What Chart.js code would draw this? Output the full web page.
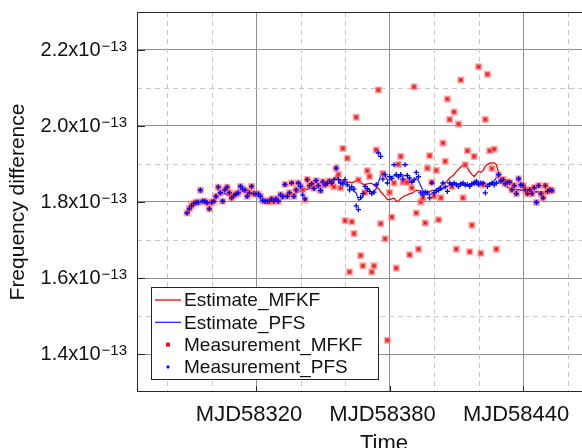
<!DOCTYPE html>
<html>
<head>
<meta charset="utf-8">
<script src="https://cdn.jsdelivr.net/npm/chart.js@4.4.0/dist/chart.umd.min.js"></script>
<style>
  html, body { margin: 0; padding: 0; background: #fff; }
  #wrap { width: 582px; height: 448px; overflow: hidden; position: relative; }
  #box { position: absolute; left: 0; top: 0; width: 640px; height: 448px; }
</style>
</head>
<body>
<div id="wrap"><div id="box"><canvas id="chart" width="640" height="448"></canvas></div></div>
<script>
// values are in units of 1e-13
const firstDay = 58289;
const lastDay = 58453;
const days = Array.from({ length: lastDay - firstDay + 1 }, (_, i) => firstDay + i);

const mfkfMeasured = [
  1.771, 1.782, 1.790, 1.796, 1.799, 1.799, 1.831, 1.802, 1.802, 1.798,
  1.782, 1.799, 1.802, 1.815, 1.839, 1.824, 1.802, 1.832, 1.839, 1.824,
  1.811, 1.817, 1.821, 1.824, 1.841, 1.834, 1.831, 1.815, 1.824, 1.841,
  1.822, 1.821, 1.821, 1.815, 1.804, 1.802, 1.802, 1.802, 1.808, 1.802,
  1.808, 1.802, 1.819, 1.815, 1.846, 1.815, 1.824, 1.850, 1.815, 1.832,
  1.850, 1.841, 1.832, 1.806, 1.859, 1.843, 1.848, 1.836, 1.856, 1.843,
  1.830, 1.853, 1.845, 1.849, 1.855, 1.850, 1.840, 1.889, 1.872, 1.837,
  1.941, 1.751, 1.915, 1.616, 1.748, 1.717, 2.023, 1.858, 1.659, 1.632,
  1.825, 1.882, 1.867, 1.616, 1.632, 1.937, 2.095, 1.743, 1.875, 1.703,
  1.436, 1.825, 1.760, 1.850, 1.626, 1.899, 1.920, 1.852, 1.853, 1.852,
  1.661, 1.837, 2.103, 1.771, 1.676, 1.800, 1.810, 1.745, 1.889, 1.922,
  1.852, 1.815, 1.883, 1.753, 1.811, 1.955, 1.907, 2.071, 2.017, 1.840,
  2.037, 1.676, 2.005, 2.121, 1.811, 1.898, 1.935, 1.669, 1.739, 1.920,
  1.850, 2.156, 1.665, 1.845, 2.017, 2.136, 1.935, 1.888, 1.939, 1.676,
  1.872, 1.855, 1.859, 1.848, 1.852, 1.852, 1.832, 1.843, 1.822, 1.861,
  1.845, 1.843, 1.832, 1.822, 1.832, 1.822, 1.838, 1.799, 1.843, 1.822,
  1.811, 1.843, 1.828, 1.832, 1.830
];

const pfsMeasured = [
  1.771, 1.782, 1.790, 1.796, 1.799, 1.799, 1.831, 1.802, 1.802, 1.798,
  1.782, 1.799, 1.802, 1.815, 1.839, 1.824, 1.802, 1.832, 1.839, 1.824,
  1.811, 1.817, 1.821, 1.824, 1.841, 1.834, 1.831, 1.815, 1.824, 1.841,
  1.822, 1.821, 1.821, 1.815, 1.804, 1.802, 1.802, 1.802, 1.808, 1.802,
  1.808, 1.802, 1.819, 1.815, 1.846, 1.815, 1.824, 1.850, 1.815, 1.832,
  1.850, 1.841, 1.819, 1.808, 1.859, 1.843, 1.848, 1.836, 1.856, 1.843,
  1.830, 1.853, 1.845, 1.849, 1.855, 1.850, 1.859, 1.889, 1.859, 1.850,
  1.848, 1.859, 1.845, 1.832, 1.840, 1.834, 1.790, 1.780, 1.812, 1.822,
  1.841, 1.835, 1.828, 1.822, 1.826, 1.846, 1.929, 1.920, 1.860, 1.872,
  1.850, 1.867, 1.862, 1.898, 1.872, 1.866, 1.872, 1.860, 1.898, 1.870,
  1.863, 1.852, 1.858, 1.878, 1.867, 1.824, 1.819, 1.826, 1.824, 1.811,
  1.850, 1.824, 1.830, 1.831, 1.836, 1.850, 1.840, 1.828, 1.850, 1.846,
  1.850, 1.845, 1.841, 1.848, 1.850, 1.845, 1.846, 1.841, 1.848, 1.850,
  1.854, 1.846, 1.850, 1.850, 1.824, 1.841, 1.846, 1.850, 1.845, 1.850,
  1.872, 1.855, 1.859, 1.848, 1.852, 1.852, 1.832, 1.843, 1.822, 1.861,
  1.845, 1.843, 1.832, 1.822, 1.832, 1.822, 1.838, 1.799, 1.843, 1.822,
  1.811, 1.843, 1.828, 1.832, 1.830
];

const pfsEstimate = [
  1.774, 1.780, 1.784, 1.790, 1.793, 1.797, 1.801, 1.801, 1.801, 1.799,
  1.798, 1.801, 1.806, 1.811, 1.822, 1.830, 1.824, 1.822, 1.819, 1.817,
  1.817, 1.817, 1.819, 1.824, 1.827, 1.832, 1.835, 1.832, 1.828, 1.824,
  1.821, 1.819, 1.817, 1.814, 1.810, 1.807, 1.805, 1.803, 1.803, 1.803,
  1.803, 1.805, 1.806, 1.809, 1.811, 1.814, 1.817, 1.819, 1.822, 1.824,
  1.827, 1.830, 1.831, 1.832, 1.834, 1.835, 1.836, 1.838, 1.838, 1.839,
  1.840, 1.842, 1.844, 1.846, 1.851, 1.855, 1.859, 1.869, 1.861, 1.851,
  1.852, 1.853, 1.848, 1.840, 1.834, 1.828, 1.824, 1.805, 1.807, 1.814,
  1.826, 1.834, 1.832, 1.824, 1.828, 1.835, 1.852, 1.869, 1.876, 1.868,
  1.859, 1.856, 1.867, 1.869, 1.872, 1.870, 1.868, 1.868, 1.870, 1.867,
  1.859, 1.851, 1.857, 1.864, 1.856, 1.843, 1.830, 1.823, 1.821, 1.819,
  1.822, 1.824, 1.827, 1.830, 1.832, 1.835, 1.839, 1.842, 1.846, 1.848,
  1.849, 1.848, 1.847, 1.846, 1.844, 1.843, 1.843, 1.844, 1.846, 1.847,
  1.848, 1.849, 1.849, 1.848, 1.846, 1.847, 1.849, 1.851, 1.856, 1.864,
  1.867, 1.859, 1.848, 1.842, 1.839, 1.836, 1.835, 1.834, 1.832, 1.832,
  1.831, 1.830, 1.830, 1.828, 1.826, 1.824, 1.826, 1.827, 1.827, 1.827,
  1.826, 1.824, 1.826, 1.828, 1.830
];

const mfkfEstimate = [
  1.774, 1.780, 1.784, 1.790, 1.793, 1.797, 1.801, 1.801, 1.801, 1.799,
  1.798, 1.801, 1.806, 1.811, 1.822, 1.830, 1.824, 1.822, 1.819, 1.817,
  1.817, 1.817, 1.819, 1.824, 1.827, 1.832, 1.835, 1.832, 1.828, 1.824,
  1.821, 1.819, 1.817, 1.814, 1.810, 1.807, 1.805, 1.803, 1.803, 1.803,
  1.803, 1.805, 1.806, 1.809, 1.811, 1.814, 1.817, 1.819, 1.822, 1.824,
  1.827, 1.830, 1.831, 1.832, 1.834, 1.835, 1.836, 1.838, 1.838, 1.839,
  1.840, 1.842, 1.844, 1.846, 1.851, 1.855, 1.859, 1.864, 1.861, 1.859,
  1.856, 1.855, 1.853, 1.852, 1.851, 1.853, 1.856, 1.855, 1.851, 1.847,
  1.846, 1.848, 1.849, 1.849, 1.844, 1.839, 1.836, 1.827, 1.821, 1.814,
  1.807, 1.806, 1.809, 1.810, 1.802, 1.803, 1.809, 1.813, 1.817, 1.819,
  1.822, 1.823, 1.827, 1.831, 1.830, 1.828, 1.826, 1.826, 1.827, 1.828,
  1.830, 1.831, 1.832, 1.838, 1.843, 1.847, 1.851, 1.856, 1.863, 1.867,
  1.873, 1.880, 1.886, 1.892, 1.897, 1.898, 1.890, 1.880, 1.872, 1.867,
  1.874, 1.881, 1.878, 1.882, 1.894, 1.899, 1.902, 1.903, 1.903, 1.898,
  1.877, 1.859, 1.848, 1.842, 1.839, 1.836, 1.835, 1.834, 1.832, 1.832,
  1.831, 1.830, 1.830, 1.828, 1.826, 1.824, 1.826, 1.827, 1.827, 1.827,
  1.826, 1.824, 1.826, 1.828, 1.830
];

const xMajorTicks = [58320, 58380, 58440];
const xMinorTicks = [58280, 58300, 58340, 58360, 58400, 58420, 58460, 58480];
const yMajorTicks = [1.4, 1.6, 1.8, 2.0, 2.2];
const yMinorTicks = [1.5, 1.7, 1.9, 2.1];
const exponent = '\u221213';

const FONT = '"Liberation Sans", Arial, Helvetica, sans-serif';

function points(vals) {
  return days.map((d, i) => ({ x: d, y: vals[i] }));
}

const decor = {
  id: 'decor',
  beforeDatasetsDraw(chart) {
    const { ctx, chartArea: a, scales: { x, y } } = chart;
    ctx.save();
    ctx.strokeStyle = '#c8c8c8';
    ctx.lineWidth = 1;
    ctx.setLineDash([5, 4]);
    ctx.beginPath();
    xMinorTicks.forEach(v => {
      const p = Math.round(x.getPixelForValue(v)) + 0.5;
      ctx.moveTo(p, a.top);
      ctx.lineTo(p, a.bottom);
    });
    yMinorTicks.forEach(v => {
      const p = Math.round(y.getPixelForValue(v)) + 0.5;
      ctx.moveTo(a.left, p);
      ctx.lineTo(a.right, p);
    });
    ctx.stroke();
    ctx.restore();
  },
  afterDraw(chart) {
    const { ctx, chartArea: a, scales: { x, y } } = chart;
    ctx.save();

    // axes box and inward ticks
    ctx.strokeStyle = '#262626';
    ctx.lineWidth = 1;
    ctx.beginPath();
    ctx.moveTo(a.left + 0.5, a.top + 0.5);
    ctx.lineTo(a.right, a.top + 0.5);
    ctx.moveTo(a.left + 0.5, a.top);
    ctx.lineTo(a.left + 0.5, a.bottom);
    ctx.moveTo(a.left, a.bottom - 0.5);
    ctx.lineTo(a.right, a.bottom - 0.5);
    yMajorTicks.forEach(v => {
      const p = Math.round(y.getPixelForValue(v)) + 0.5;
      ctx.moveTo(a.left, p);
      ctx.lineTo(a.left + 8, p);
    });
    xMajorTicks.forEach(v => {
      const p = Math.round(x.getPixelForValue(v)) + 0.5;
      ctx.moveTo(p, a.bottom);
      ctx.lineTo(p, a.bottom - 6);
    });
    ctx.stroke();

    // y tick labels with superscript exponent
    ctx.fillStyle = '#111';
    yMajorTicks.forEach(v => {
      const py = y.getPixelForValue(v);
      ctx.font = '15px ' + FONT;
      const sw = ctx.measureText(exponent).width;
      const right = a.left - 10;
      ctx.textAlign = 'left';
      ctx.textBaseline = 'alphabetic';
      ctx.fillText(exponent, right - sw, py + 1);
      ctx.font = '20px ' + FONT;
      ctx.textAlign = 'right';
      ctx.textBaseline = 'middle';
      ctx.fillText(v.toFixed(1) + 'x10', right - sw - 1, py);
    });

    // legend box
    const lx = a.left + 14, ly = a.top + 275, lw = 227, lh = 92;
    ctx.fillStyle = '#fff';
    ctx.fillRect(lx, ly, lw, lh);
    ctx.strokeStyle = '#222';
    ctx.lineWidth = 1;
    ctx.strokeRect(lx + 0.5, ly + 0.5, lw, lh);
    ctx.font = '19px ' + FONT;
    ctx.textAlign = 'left';
    ctx.textBaseline = 'middle';
    chart.data.datasets.forEach((ds, i) => {
      const ry = ly + 13 + i * 22.3;
      if (ds.showLine) {
        ctx.strokeStyle = ds.borderColor;
        ctx.lineWidth = ds.borderWidth;
        ctx.beginPath();
        ctx.moveTo(lx + 4, ry);
        ctx.lineTo(lx + 30, ry);
        ctx.stroke();
      } else if (ds.pointStyle === 'rect') {
        ctx.fillStyle = ds.backgroundColor;
        ctx.fillRect(lx + 15, ry - 2, 4, 4);
      } else {
        ctx.fillStyle = ds.borderColor;
        ctx.fillRect(lx + 16, ry - 1, 2, 2);
        ctx.fillRect(lx + 15, ry - 0.5, 4, 1);
        ctx.fillRect(lx + 16.5, ry - 2, 1, 4);
      }
      ctx.fillStyle = '#111';
      ctx.fillText(ds.label, lx + 33, ry + 1);
    });
    ctx.restore();
  }
};

new Chart(document.getElementById('chart'), {
  type: 'scatter',
  data: {
    datasets: [
      {
        label: 'Estimate_MFKF',
        data: points(mfkfEstimate),
        showLine: true,
        borderColor: '#ff0000',
        borderWidth: 1.3,
        pointRadius: 0,
        order: 4
      },
      {
        label: 'Estimate_PFS',
        data: points(pfsEstimate),
        showLine: true,
        borderColor: '#2a2aff',
        borderWidth: 1.3,
        pointRadius: 0,
        order: 3
      },
      {
        label: 'Measurement_MFKF',
        data: points(mfkfMeasured),
        showLine: false,
        pointStyle: 'rect',
        pointRadius: 3.2,
        backgroundColor: '#f01010',
        borderColor: 'rgba(255, 120, 120, 0.6)',
        borderWidth: 2.5,
        order: 2
      },
      {
        label: 'Measurement_PFS',
        data: points(pfsMeasured),
        showLine: false,
        pointStyle: 'cross',
        pointRadius: 2.6,
        borderColor: '#0000ff',
        backgroundColor: '#0000ff',
        borderWidth: 1.3,
        order: 1
      }
    ]
  },
  options: {
    responsive: false,
    animation: false,
    layout: { padding: { top: 12, right: 9, left: 0, bottom: 0 } },
    plugins: { legend: { display: false }, tooltip: { enabled: false } },
    scales: {
      x: {
        type: 'linear',
        min: 58266.5,
        max: 58488.5,
        afterBuildTicks: s => { s.ticks = xMajorTicks.map(v => ({ value: v })); },
        afterFit: s => { s.height = 56; },
        grid: { color: '#909090', lineWidth: 1, drawTicks: false },
        border: { display: false },
        ticks: {
          padding: 10,
          labelOffset: -7,
          maxRotation: 0,
          autoSkip: false,
          color: '#111',
          font: { family: FONT, size: 22 },
          callback: v => 'MJD' + v
        },
        title: {
          display: true,
          text: 'Time',
          color: '#111',
          font: { family: FONT, size: 22, lineHeight: 1 },
          padding: { top: 0, bottom: -7 }
        }
      },
      y: {
        type: 'linear',
        min: 1.3,
        max: 2.3,
        afterBuildTicks: s => { s.ticks = yMajorTicks.map(v => ({ value: v })); },
        afterFit: s => { s.width = 137; },
        grid: { color: '#909090', lineWidth: 1, drawTicks: false },
        border: { display: false },
        ticks: { display: false },
        title: {
          display: true,
          text: 'Frequency difference',
          color: '#111',
          font: { family: FONT, size: 21, lineHeight: 1.2 },
          padding: { top: 6, bottom: 0 }
        }
      }
    }
  },
  plugins: [decor]
});
</script>
</body>
</html>
